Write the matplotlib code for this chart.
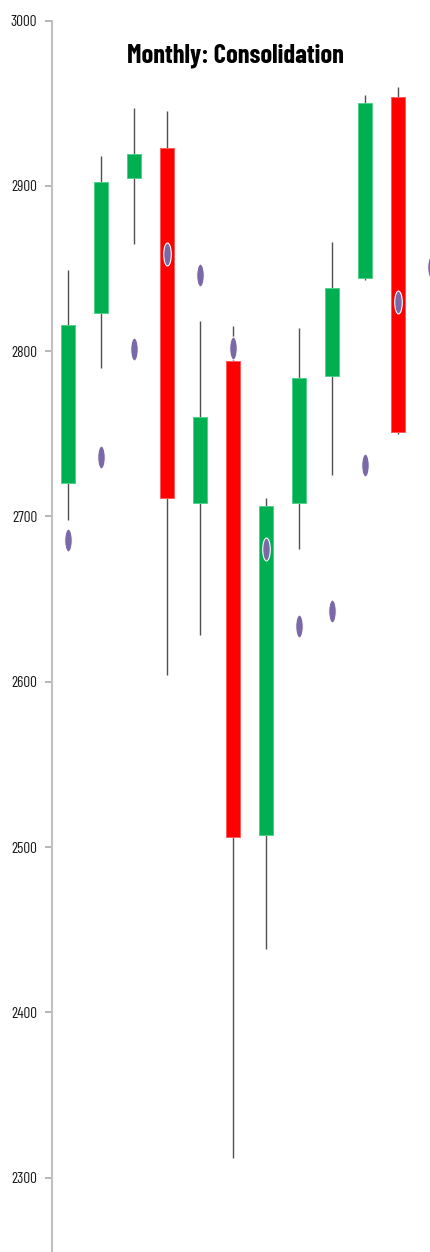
import numpy as np
import matplotlib
matplotlib.use("Agg")
import matplotlib.pyplot as plt
from matplotlib.path import Path
from matplotlib.transforms import Affine2D

# ---- data ----
months = list(range(11))
opens  = [2720, 2823, 2905, 2923, 2708, 2794, 2507, 2708, 2785, 2844, 2954]
highs  = [2849, 2918, 2947, 2945, 2818, 2815, 2711, 2814, 2866, 2955, 2960]
lows   = [2698, 2790, 2865, 2604, 2628, 2312, 2438, 2680, 2725, 2843, 2750]
closes = [2816, 2902, 2919, 2711, 2760, 2506, 2706, 2784, 2838, 2950, 2751]
dot_x  = list(range(12))
dots   = [2686, 2736, 2801, 2859, 2846, 2802, 2680, 2634, 2643, 2731, 2830, 2851]
yticks = [2300, 2400, 2500, 2600, 2700, 2800, 2900, 3000]
title  = "Monthly: Consolidation"

FONT = ['Barlow Condensed', 'Roboto Condensed', 'DejaVu Sans']
plt.rcParams['font.family'] = FONT

W, H, DPI = 431, 1252, 100
fig = plt.figure(figsize=(W / DPI, H / DPI), dpi=DPI)
left = 52.5 / W
top = 1 - 20.5 / H
ax = fig.add_axes([left, 0.0, 1 - left, top])

o = np.array(opens); c = np.array(closes)
up = c >= o
green = '#00b050'
red = '#ff0000'
body_colors = [green if u else red for u in up]
edge_colors = ['#4fd08a' if u else '#ff5a5a' for u in up]

ax.vlines(months, lows, highs, color='#505050', linewidth=1.0, zorder=1)
ax.bar(months, c - o, bottom=o, width=0.42, color=body_colors,
       edgecolor=edge_colors, linewidth=0.7, zorder=2)

ell = Path.unit_circle().transformed(Affine2D().scale(0.33, 1.0))
ax.plot(dot_x, dots, linestyle='none', marker=ell, markersize=16.5,
        markerfacecolor='#7b68a6', markeredgecolor='white',
        markeredgewidth=0.8, zorder=3)

ax.set_xlim(-0.47, 11.0)
ax.set_ylim(2255, 3000)
ax.set_yticks(yticks)
ax.set_yticklabels([str(v) for v in yticks], fontsize=11, color='#1a1a1a')
ax.tick_params(axis='y', length=5, width=1.3, color='#b0b0b0', pad=6)
ax.set_xticks([])
for s in ['top', 'right', 'bottom']:
    ax.spines[s].set_visible(False)
ax.spines['left'].set_color('#c0c0c0')
ax.spines['left'].set_linewidth(1.5)

fig.text(235 / W, 1 - 56 / H, title, ha='center', va='center',
         fontsize=19, fontweight='bold', color='black')

fig.savefig('out.png', dpi=DPI)
